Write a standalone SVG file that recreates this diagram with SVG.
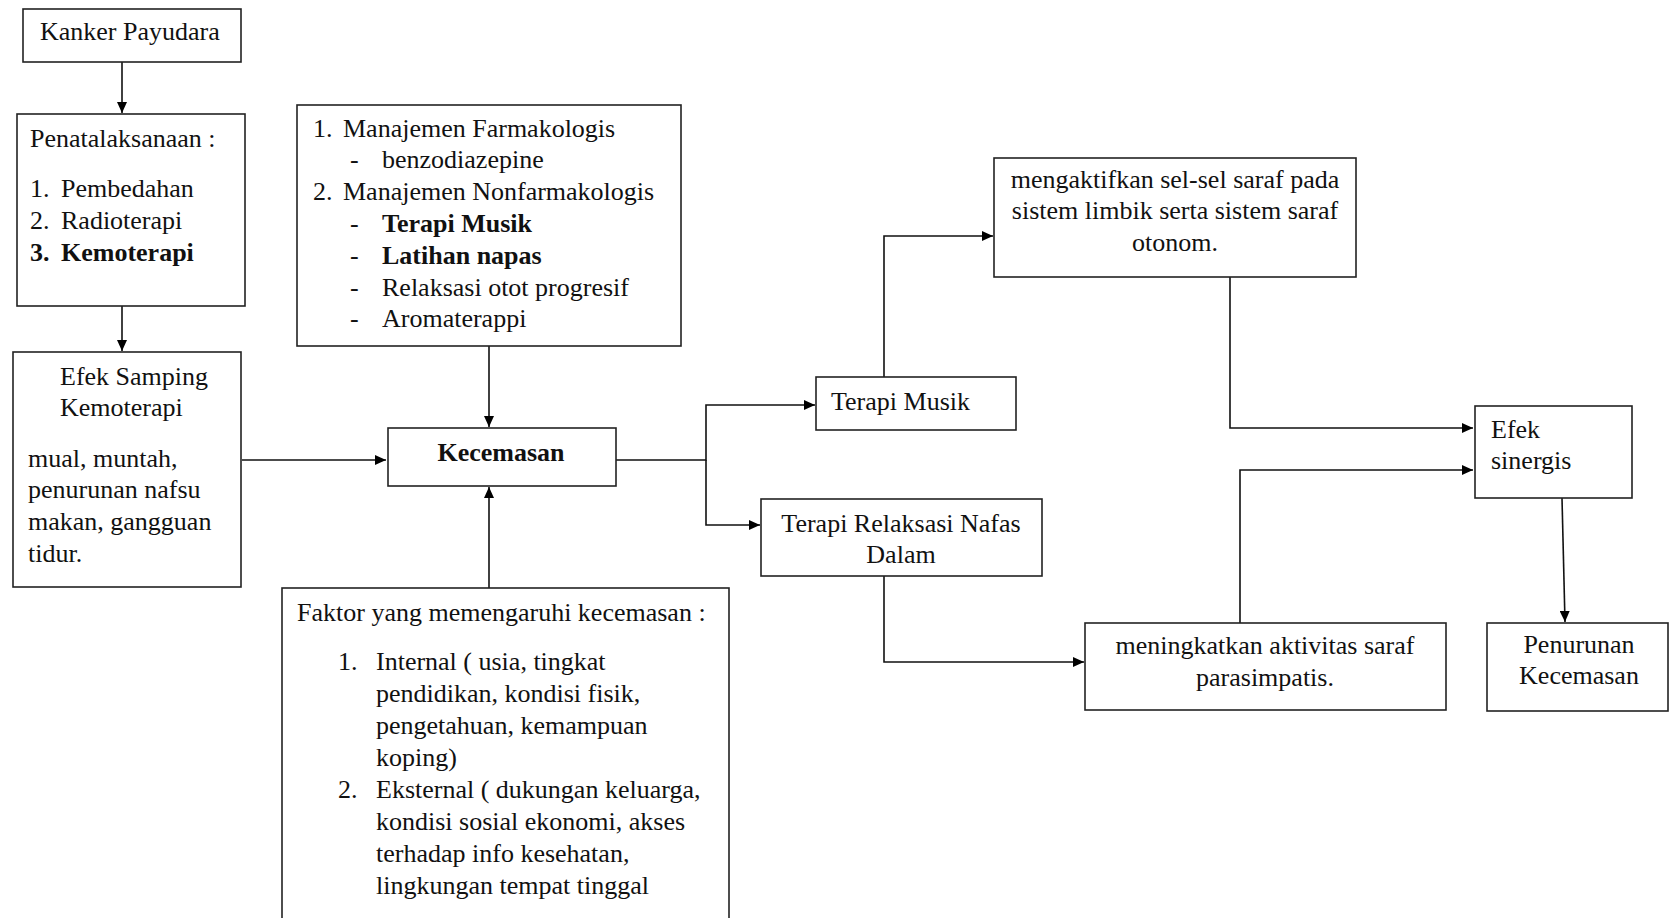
<svg xmlns="http://www.w3.org/2000/svg" width="1670" height="918" viewBox="0 0 1670 918">
<defs>
<marker id="ah" markerUnits="userSpaceOnUse" markerWidth="12" markerHeight="10" refX="11" refY="5" orient="auto">
<path d="M0,0 L11,5 L0,10 z" fill="#000"/>
</marker>
<style>
.box{fill:#fff;stroke:#222;stroke-width:1.6}
.t{font-family:"Liberation Serif","Times New Roman",serif;font-size:26px;fill:#111}
.b{font-weight:bold}
.c{text-anchor:middle}
.ln{fill:none;stroke:#111;stroke-width:1.6}
</style>
</defs>
<rect width="1670" height="918" fill="#fff"/>
<g id="connectors">
<path class="ln" d="M122,62 V113" marker-end="url(#ah)"/>
<path class="ln" d="M122,306 V351" marker-end="url(#ah)"/>
<path class="ln" d="M242,460 H386" marker-end="url(#ah)"/>
<path class="ln" d="M489,346 V427" marker-end="url(#ah)"/>
<path class="ln" d="M489,588 V487" marker-end="url(#ah)"/>
<path class="ln" d="M616,460 H706 V405 H815" marker-end="url(#ah)"/>
<path class="ln" d="M706,460 V525 H760" marker-end="url(#ah)"/>
<path class="ln" d="M884,377 V236 H993" marker-end="url(#ah)"/>
<path class="ln" d="M1230,277 V428 H1473" marker-end="url(#ah)"/>
<path class="ln" d="M884,576 V662 H1084" marker-end="url(#ah)"/>
<path class="ln" d="M1240,623 V470 H1473" marker-end="url(#ah)"/>
<path class="ln" d="M1562,498 L1565,622" marker-end="url(#ah)"/>
</g>
<g id="kanker">
<rect class="box" x="23" y="9" width="218" height="53"/>
<text class="t" x="40" y="40">Kanker Payudara</text>
</g>
<g id="penatalaksanaan">
<rect class="box" x="17" y="114" width="228" height="192"/>
<text class="t" x="30" y="147">Penatalaksanaan :</text>
<text class="t" x="30" y="197">1.</text><text class="t" x="61" y="197">Pembedahan</text>
<text class="t" x="30" y="229">2.</text><text class="t" x="61" y="229">Radioterapi</text>
<text class="t b" x="30" y="261">3.</text><text class="t b" x="61" y="261">Kemoterapi</text>
</g>
<g id="efek-samping">
<rect class="box" x="13" y="352" width="228" height="235"/>
<text class="t" x="60" y="385">Efek Samping</text>
<text class="t" x="60" y="416">Kemoterapi</text>
<text class="t" x="28" y="467">mual, muntah,</text>
<text class="t" x="28" y="498">penurunan nafsu</text>
<text class="t" x="28" y="530">makan, gangguan</text>
<text class="t" x="28" y="562">tidur.</text>
</g>
<g id="manajemen">
<rect class="box" x="297" y="105" width="384" height="241"/>
<text class="t" x="313" y="137">1.</text><text class="t" x="343" y="137">Manajemen Farmakologis</text>
<text class="t" x="350" y="168">-</text><text class="t" x="382" y="168">benzodiazepine</text>
<text class="t" x="313" y="200">2.</text><text class="t" x="343" y="200">Manajemen Nonfarmakologis</text>
<text class="t" x="350" y="232">-</text><text class="t b" x="382" y="232">Terapi Musik</text>
<text class="t" x="350" y="264">-</text><text class="t b" x="382" y="264">Latihan napas</text>
<text class="t" x="350" y="296">-</text><text class="t" x="382" y="296">Relaksasi otot progresif</text>
<text class="t" x="350" y="327">-</text><text class="t" x="382" y="327">Aromaterappi</text>
</g>
<g id="kecemasan">
<rect class="box" x="388" y="428" width="228" height="58"/>
<text class="t b c" x="501" y="461">Kecemasan</text>
</g>
<g id="faktor">
<rect class="box" x="282" y="588" width="447" height="345"/>
<text class="t" x="297" y="621">Faktor yang memengaruhi kecemasan :</text>
<text class="t" x="338" y="670">1.</text><text class="t" x="376" y="670">Internal ( usia, tingkat</text>
<text class="t" x="376" y="702">pendidikan, kondisi fisik,</text>
<text class="t" x="376" y="734">pengetahuan, kemampuan</text>
<text class="t" x="376" y="766">koping)</text>
<text class="t" x="338" y="798">2.</text><text class="t" x="376" y="798">Eksternal ( dukungan keluarga,</text>
<text class="t" x="376" y="830">kondisi sosial ekonomi, akses</text>
<text class="t" x="376" y="862">terhadap info kesehatan,</text>
<text class="t" x="376" y="894">lingkungan tempat tinggal</text>
</g>
<g id="terapi-musik">
<rect class="box" x="816" y="377" width="200" height="53"/>
<text class="t" x="831" y="410">Terapi Musik</text>
</g>
<g id="terapi-relaksasi">
<rect class="box" x="761" y="499" width="281" height="77"/>
<text class="t c" x="901" y="532">Terapi Relaksasi Nafas</text>
<text class="t c" x="901" y="563">Dalam</text>
</g>
<g id="mengaktifkan">
<rect class="box" x="994" y="158" width="362" height="119"/>
<text class="t c" x="1175" y="188">mengaktifkan sel-sel saraf pada</text>
<text class="t c" x="1175" y="219">sistem limbik serta sistem saraf</text>
<text class="t c" x="1175" y="251">otonom.</text>
</g>
<g id="meningkatkan">
<rect class="box" x="1085" y="623" width="361" height="87"/>
<text class="t c" x="1265" y="654">meningkatkan aktivitas saraf</text>
<text class="t c" x="1265" y="686">parasimpatis.</text>
</g>
<g id="efek-sinergis">
<rect class="box" x="1475" y="406" width="157" height="92"/>
<text class="t" x="1491" y="438">Efek</text>
<text class="t" x="1491" y="469">sinergis</text>
</g>
<g id="penurunan">
<rect class="box" x="1487" y="623" width="181" height="88"/>
<text class="t c" x="1579" y="653">Penurunan</text>
<text class="t c" x="1579" y="684">Kecemasan</text>
</g>
</svg>
